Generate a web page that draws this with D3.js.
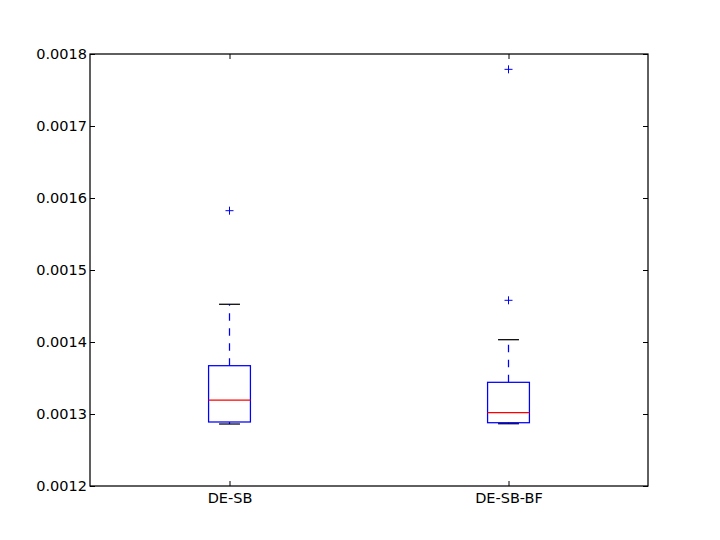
<!DOCTYPE html>
<html>
<head>
<meta charset="utf-8">
<script src="https://cdn.jsdelivr.net/npm/d3@7"></script>
<style>
  body { margin: 0; background: #fff; }
  text { font-family: "DejaVu Sans", sans-serif; }
</style>
</head>
<body>
<div id="chart"></div>
<script>
var width = 720,
    height = 540;
var margin = { top: 54, right: 72, bottom: 54, left: 90 };

// box stats
var categories = ["DE-SB", "DE-SB-BF"];
var whiskerLow = [0.0012861, 0.0012865];
var q1 = [0.0012889, 0.0012879];
var medians = [0.0013194, 0.0013018];
var q3 = [0.0013671, 0.0013440];
var whiskerHigh = [0.0014524, 0.0014032];
var outliers = [[0.0015824], [0.0017787, 0.0014579]];
var yTicks = [0.0012, 0.0013, 0.0014, 0.0015, 0.0016, 0.0017, 0.0018];

var boxes = categories.map(function(c, i) {
  return { name: c, pos: i + 1, lo: whiskerLow[i], q1: q1[i], med: medians[i],
           q3: q3[i], hi: whiskerHigh[i], fliers: outliers[i] };
});

var svg = d3.select("#chart").append("svg")
    .attr("width", width)
    .attr("height", height);

var x = d3.scaleLinear().domain([0.5, 2.5]).range([margin.left, width - margin.right]);
var y = d3.scaleLinear().domain([0.0012, 0.0018]).range([height - margin.bottom, margin.top]);

var boxW = x(1.075) - x(0.925),
    capW = x(1.0375) - x(0.9625);

var g = svg.selectAll("g.box")
    .data(boxes)
    .enter()
    .append("g")
      .attr("class", "box");

// whiskers
g.append("line")
    .attr("x1", function(d) { return x(d.pos); })
    .attr("x2", function(d) { return x(d.pos); })
    .attr("y1", function(d) { return y(d.q3); })
    .attr("y2", function(d) { return y(d.hi); })
    .attr("stroke", "blue").attr("stroke-width", 1.25)
    .attr("stroke-dasharray", "7.5,7.5");
g.append("line")
    .attr("x1", function(d) { return x(d.pos); })
    .attr("x2", function(d) { return x(d.pos); })
    .attr("y1", function(d) { return y(d.q1); })
    .attr("y2", function(d) { return y(d.lo); })
    .attr("stroke", "blue").attr("stroke-width", 1.25)
    .attr("stroke-dasharray", "7.5,7.5");

// caps
["hi", "lo"].forEach(function(k) {
  g.append("line")
      .attr("x1", function(d) { return x(d.pos) - capW / 2; })
      .attr("x2", function(d) { return x(d.pos) + capW / 2; })
      .attr("y1", function(d) { return y(d[k]); })
      .attr("y2", function(d) { return y(d[k]); })
      .attr("stroke", "black").attr("stroke-width", 1.25);
});

// box
g.append("rect")
    .attr("x", function(d) { return x(d.pos) - boxW / 2; })
    .attr("y", function(d) { return y(d.q3); })
    .attr("width", boxW)
    .attr("height", function(d) { return y(d.q1) - y(d.q3); })
    .attr("fill", "none")
    .attr("stroke", "blue").attr("stroke-width", 1.25);

// median
g.append("line")
    .attr("x1", function(d) { return x(d.pos) - boxW / 2; })
    .attr("x2", function(d) { return x(d.pos) + boxW / 2; })
    .attr("y1", function(d) { return y(d.med); })
    .attr("y2", function(d) { return y(d.med); })
    .attr("stroke", "red").attr("stroke-width", 1.25);

// fliers
g.selectAll("path.flier")
    .data(function(d) { return d.fliers.map(function(v) { return { pos: d.pos, v: v }; }); })
    .enter()
    .append("path")
      .attr("class", "flier")
      .attr("d", "M-4,0H4M0,-4V4")
      .attr("transform", function(d) { return "translate(" + x(d.pos) + "," + y(d.v) + ")"; })
      .attr("stroke", "blue").attr("stroke-width", 1)
      .attr("fill", "none");

// axes: ticks inside, on all four sides
var tickLen = 5;
svg.append("g")
    .attr("transform", "translate(" + margin.left + ",0)")
    .call(d3.axisLeft(y).tickValues(yTicks).tickFormat(d3.format(".4f")).tickSizeInner(-tickLen).tickSizeOuter(0).tickPadding(3));
svg.append("g")
    .attr("transform", "translate(" + (width - margin.right) + ",0)")
    .call(d3.axisRight(y).tickValues(yTicks).tickFormat("").tickSizeInner(-tickLen).tickSizeOuter(0));
svg.append("g")
    .attr("transform", "translate(0," + (height - margin.bottom) + ")")
    .call(d3.axisBottom(x).tickValues([1, 2]).tickFormat(function(d) { return categories[d - 1]; }).tickSizeInner(-tickLen).tickSizeOuter(0).tickPadding(6.5));
svg.append("g")
    .attr("transform", "translate(0," + margin.top + ")")
    .call(d3.axisTop(x).tickValues([1, 2]).tickFormat("").tickSizeInner(-tickLen).tickSizeOuter(0));

svg.selectAll(".domain").remove();
svg.selectAll(".tick line").attr("stroke", "black").attr("stroke-width", 1);
svg.selectAll(".tick text").attr("font-size", 14.5).attr("fill", "black")
    .attr("font-family", "DejaVu Sans");

// frame
svg.append("rect")
    .attr("x", margin.left)
    .attr("y", margin.top)
    .attr("width", width - margin.left - margin.right)
    .attr("height", height - margin.top - margin.bottom)
    .attr("fill", "none")
    .attr("stroke", "black")
    .attr("stroke-width", 1.25);
</script>
</body>
</html>
